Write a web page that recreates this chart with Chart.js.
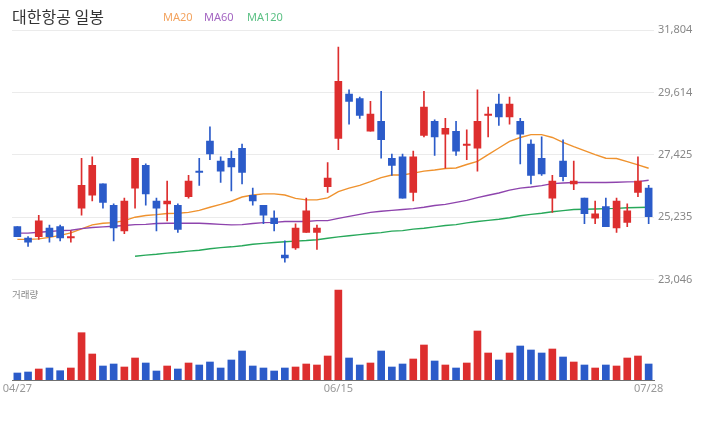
<!DOCTYPE html>
<html>
<head>
<meta charset="utf-8">
<script src="https://cdn.jsdelivr.net/npm/chart.js@4.4.0/dist/chart.umd.min.js"></script>
<style>
  body { margin: 0; background: #fff; }
  #wrap { position: relative; width: 720px; height: 440px; overflow: hidden; font-family: "Noto Sans CJK KR", "Noto Sans", sans-serif; }
  #title { position: absolute; left: 12px; top: 5px; font-size: 16px; line-height: 22px; color: #333; }
  .ma { position: absolute; top: 9px; font-family: "Noto Sans", sans-serif; font-size: 11px; line-height: 16px; }
  #volLabel { position: absolute; left: 12px; top: 288px; font-size: 9.5px; line-height: 13px; color: #888; }
  #priceCanvas { position: absolute; left: 0; top: 0; }
  #volCanvas { position: absolute; left: 0; top: 280px; }
</style>
</head>
<body>
<div id="wrap">
  <canvas id="priceCanvas" width="720" height="290"></canvas>
  <canvas id="volCanvas" width="720" height="160"></canvas>
  <div id="title">대한항공 일봉</div>
  <div class="ma" style="left:163px;color:#f3a460">MA20</div>
  <div class="ma" style="left:204px;color:#a466c2">MA60</div>
  <div class="ma" style="left:247px;color:#5cc185">MA120</div>
  <div id="volLabel">거래량</div>
</div>
<script>
const dates = [
  "04/27","04/28","04/29","04/30","05/03","05/04","05/06","05/07","05/10","05/11",
  "05/12","05/13","05/14","05/17","05/18","05/20","05/21","05/24","05/25","05/26",
  "05/27","05/28","05/31","06/01","06/02","06/04","06/08","06/10","06/11","06/14",
  "06/15","06/16","06/17","06/18","06/21","06/22","06/23","06/24","06/25","06/28",
  "06/29","06/30","07/01","07/02","07/05","07/06","07/07","07/08","07/09","07/12",
  "07/13","07/14","07/15","07/16","07/19","07/20","07/21","07/22","07/23","07/28"
];
const shownDates = ["04/27", "06/15", "07/28"];

const opens = [
  24900,24500,24550,24850,24900,24500,25550,26000,26400,25650,
  24750,26250,27050,25800,25700,25650,25950,26850,27900,27200,
  27300,27650,26000,25650,25200,23900,24150,24700,24700,26300,
  28000,29550,29400,28250,28600,27300,27350,26100,28100,28600,
  28150,28250,27750,27650,28800,29200,28750,28600,27800,27300,
  25900,27200,26400,25900,25200,25600,24850,25050,26100,26250
];
const highs = [
  24900,24550,25300,24950,24950,24750,27300,27350,26400,25700,
  25900,27300,27100,25900,26500,25700,26700,27300,28400,27350,
  27550,27800,26250,25650,25450,24400,25000,25900,24950,27150,
  31200,29700,29450,29300,29650,27450,27450,27550,29650,28650,
  28700,28600,28300,29700,29100,29550,29450,28700,27950,28050,
  26700,27950,27200,25900,25800,25900,25900,25700,27350,26350
];
const lows = [
  24550,24200,24450,24350,24400,24350,25300,25800,25550,24400,
  24650,25550,25650,24750,25100,24700,25900,26350,27250,26450,
  26150,26400,25650,25000,24750,23650,24100,24700,24100,26100,
  27600,28500,28700,28250,27300,26700,25900,25800,28050,27400,
  26950,27400,27250,26850,28050,28450,28500,27100,26400,26700,
  25400,26500,26200,25000,25000,24900,24700,24900,25950,25000
];
const closes = [
  24550,24350,25100,24550,24500,24550,26350,27050,25750,24850,
  25800,27300,26050,25550,25800,24800,26500,26800,27450,26850,
  27000,26800,25800,25300,25000,23800,24850,25450,24850,26600,
  30000,29300,28800,28850,27950,27050,25900,27350,29100,28050,
  28350,27550,27800,28600,28850,28750,29200,28150,26700,26750,
  26500,26650,26500,25350,25350,24900,25800,25450,26500,25250
];
const volumes = [
  350000,400000,550000,600000,465000,600000,2365000,1300000,700000,800000,
  650000,1100000,850000,450000,700000,550000,850000,750000,900000,600000,
  1000000,1450000,700000,600000,450000,600000,650000,800000,750000,1200000,
  4500000,1100000,750000,850000,1450000,650000,800000,1050000,1750000,950000,
  750000,600000,850000,2450000,1350000,1000000,1350000,1700000,1500000,1350000,
  1550000,1150000,900000,750000,600000,750000,700000,1100000,1200000,800000
];
const ma20 = [
  24450,24450,24470,24520,24590,24680,24820,24960,25020,25040,
  25110,25230,25290,25320,25360,25370,25400,25470,25580,25680,
  25790,25940,26010,26050,26050,26010,25890,25840,25840,25910,
  26130,26250,26350,26480,26620,26710,26710,26780,26850,26890,
  26940,26960,27080,27190,27430,27660,27890,28030,28130,28130,
  28030,27860,27710,27570,27430,27300,27290,27180,27070,26950
];
const ma60 = [
  24670,24670,24700,24730,24760,24770,24830,24870,24890,24910,
  24940,24970,24980,25010,25020,25020,25020,25020,25000,24980,
  24960,24970,25010,25040,25050,25080,25080,25080,25110,25110,
  25190,25260,25330,25400,25440,25470,25500,25530,25580,25640,
  25680,25750,25820,25920,26000,26080,26180,26250,26290,26340,
  26410,26430,26450,26450,26450,26450,26460,26470,26480,26530
];
const ma120 = [
  null,null,null,null,null,null,null,null,null,null,
  null,23860,23900,23930,23970,24000,24040,24070,24120,24160,
  24190,24230,24280,24310,24340,24370,24390,24410,24440,24490,
  24540,24580,24620,24660,24690,24740,24760,24810,24840,24890,
  24940,24970,25030,25080,25120,25160,25210,25280,25330,25370,
  25420,25460,25500,25510,25520,25530,25540,25560,25570,25580
];
const priceTicks = [23046, 25235, 27425, 29614, 31804];

const RED = "#dd2e2e";
const BLUE = "#2b5bc9";
const candleColors = opens.map((o, i) => (closes[i] >= o ? RED : BLUE));

// both charts share the same plot width so the candles and volume bars line up
const PLOT_LEFT = 12;
const AXIS_W = 66;

const priceChart = new Chart(document.getElementById("priceCanvas"), {
  type: "bar",
  data: {
    labels: dates,
    datasets: [
      {
        type: "bar",
        data: opens.map((o, i) => [o, closes[i]]),
        backgroundColor: candleColors,
        barThickness: 7,
        grouped: false,
        borderWidth: 0,
        order: 1,
      },
      {
        type: "bar",
        data: lows.map((l, i) => [l, highs[i]]),
        backgroundColor: candleColors,
        barThickness: 1,
        grouped: false,
        borderWidth: 0,
        order: 2,
      },
      { type: "line", data: ma120, borderColor: "#27a85a", borderWidth: 1.4, pointRadius: 0, order: 3 },
      { type: "line", data: ma60, borderColor: "#8e44ad", borderWidth: 1.4, pointRadius: 0, order: 4 },
      { type: "line", data: ma20, borderColor: "#ef922e", borderWidth: 1.4, pointRadius: 0, order: 5 },
    ],
  },
  options: {
    responsive: false,
    animation: false,
    devicePixelRatio: 1,
    layout: { padding: { left: PLOT_LEFT, right: 0, top: 30, bottom: 10 } },
    plugins: { legend: { display: false }, tooltip: { enabled: false } },
    scales: {
      x: { display: false, offset: true },
      y: {
        position: "right",
        min: priceTicks[0],
        max: priceTicks[priceTicks.length - 1],
        afterBuildTicks: (scale) => {
          scale.ticks = priceTicks.map((v) => ({ value: v }));
        },
        afterFit: (scale) => {
          scale.width = AXIS_W;
        },
        grid: { color: "#ebebeb", drawTicks: false },
        border: { display: false },
        ticks: {
          padding: 4,
          color: "#888",
          font: { family: "Noto Sans", size: 11 },
          callback: (v) => Number(v).toLocaleString("en-US"),
        },
      },
    },
  },
});

const volChart = new Chart(document.getElementById("volCanvas"), {
  type: "bar",
  data: {
    labels: dates,
    datasets: [
      {
        data: volumes,
        backgroundColor: candleColors,
        barThickness: 7,
        borderWidth: 0,
      },
    ],
  },
  options: {
    responsive: false,
    animation: false,
    devicePixelRatio: 1,
    layout: { padding: { left: PLOT_LEFT, right: AXIS_W, top: 5, bottom: 0 } },
    plugins: { legend: { display: false }, tooltip: { enabled: false } },
    scales: {
      x: {
        offset: true,
        afterFit: (scale) => {
          scale.height = 60;
        },
        grid: { display: false, drawTicks: false },
        border: { display: true, color: "#707070", width: 1 },
        ticks: {
          autoSkip: false,
          maxRotation: 0,
          padding: 2,
          color: "#999",
          font: { family: "Noto Sans", size: 11 },
          callback: function (value) {
            const label = this.getLabelForValue(value);
            return shownDates.includes(label) ? label : "";
          },
        },
      },
      y: { display: false, min: 0, max: 4750000 },
    },
  },
});
</script>
</body>
</html>
